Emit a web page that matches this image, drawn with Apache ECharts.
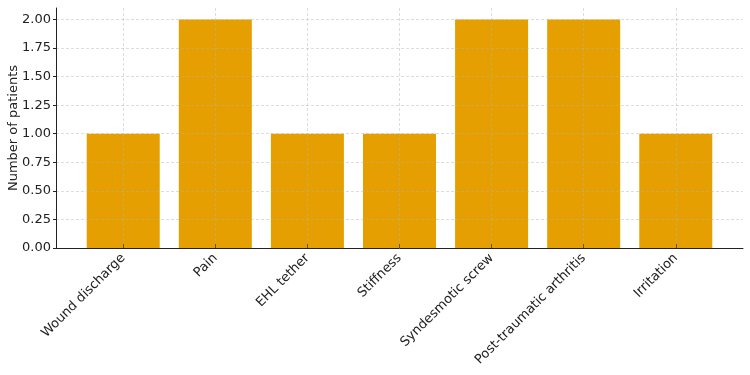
<!DOCTYPE html>
<html>
<head>
<meta charset="utf-8">
<script src="https://cdn.jsdelivr.net/npm/echarts@6/dist/echarts.min.js"></script>
<style>
  html, body { margin: 0; padding: 0; background: #fff; }
  #chart { width: 750px; height: 375px; }
</style>
</head>
<body>
<div id="chart"></div>
<script>
var complications = ["Wound discharge", "Pain", "EHL tether", "Stiffness", "Syndesmotic screw", "Post-traumatic arthritis", "Irritation"];
var patients = [1, 2, 1, 1, 2, 2, 1];
var yticks = [0, 0.25, 0.5, 0.75, 1, 1.25, 1.5, 1.75, 2];

var chartobj = echarts.init(document.getElementById("chart"));
var positions = complications.map(function (name, indx) { return indx; });
var bardata = patients.map(function (val, indx) { return [indx, val]; });
var font = "DejaVu Sans";
var gridline = {
    show: true,
    lineStyle: { color: "rgba(176,176,176,0.55)", type: [3, 2], width: 0.8 }
};

var option = {
    animation: false,
    grid: { left: 56, right: 7, top: 8, bottom: 127, outerBoundsMode: "none", containLabel: false },
    xAxis: {
        type: "value",
        min: -0.73,
        max: 6.73,
        z: 5,
        axisLine: { show: true, onZero: false, lineStyle: { color: "#222", width: 1 } },
        axisTick: { show: true, inside: true, length: 4, customValues: positions, lineStyle: { color: "#555" } },
        axisLabel: {
            customValues: positions,
            rotate: 45,
            margin: 8,
            color: "#222",
            fontFamily: font,
            fontSize: 13,
            formatter: function (val) { return complications[Math.round(val)]; }
        },
        splitLine: gridline
    },
    yAxis: {
        type: "value",
        min: 0,
        max: 2.1,
        z: 5,
        name: "Number of patients",
        nameLocation: "middle",
        nameGap: 36,
        nameMoveOverlap: false,
        nameTextStyle: { color: "#222", fontFamily: font, fontSize: 13 },
        axisLine: { show: true, onZero: false, lineStyle: { color: "#222", width: 1 } },
        axisTick: { show: true, length: 3, customValues: yticks, lineStyle: { color: "#222" } },
        axisLabel: {
            customValues: yticks,
            margin: 5,
            color: "#222",
            fontFamily: font,
            fontSize: 13,
            formatter: function (val) { return val.toFixed(2); }
        },
        splitLine: gridline
    },
    series: [
        {
            type: "bar",
            data: bardata,
            barWidth: 73,
            itemStyle: { color: "#E69F00" }
        }
    ]
};
chartobj.setOption(option);
</script>
</body>
</html>
